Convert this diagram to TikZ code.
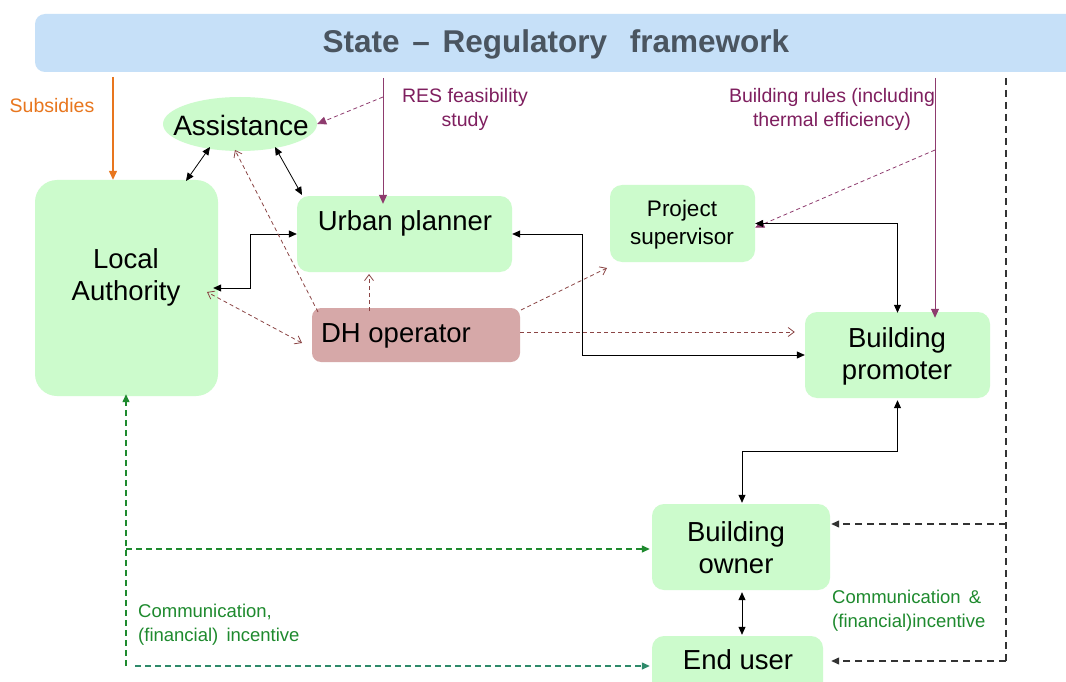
\documentclass[tikz,border=0pt]{standalone}
\usepackage{fontspec}
\setmainfont{Liberation Sans}
\usetikzlibrary{arrows.meta,shapes.geometric}
\definecolor{boxgreen}{HTML}{CCFBCC}
\definecolor{bannerblue}{HTML}{C6E0F8}
\definecolor{dhred}{HTML}{D6A8A8}
\definecolor{titlegray}{HTML}{4A5560}
\definecolor{plum}{HTML}{7F1F5F}
\definecolor{plumline}{HTML}{8E3B6E}
\definecolor{orangeline}{HTML}{E8761E}
\definecolor{darkgreen}{HTML}{1E8A2E}
\definecolor{tealgreen}{HTML}{2E8A6A}
\definecolor{brownline}{HTML}{8B4545}
\definecolor{dashgray}{HTML}{333333}
\tikzset{
  gbox/.style={fill=boxgreen, draw=none, rounded corners=12pt, inner sep=0pt},
  btext/.style={font=\fontsize{27.5}{32}\selectfont, align=center, inner sep=0pt},
  lbl/.style={font=\fontsize{19.5}{24}\selectfont, align=center, inner sep=0pt},
  blk/.style={black, line width=0.8pt, {Triangle[length=8pt,width=7pt]}-{Triangle[length=8pt,width=7pt]}},
  brn/.style={brownline, line width=0.8pt, dash pattern=on 4pt off 3pt, -{Straight Barb[length=6pt,width=9pt]}},
  brnboth/.style={brownline, line width=0.8pt, dash pattern=on 4pt off 3pt, {Straight Barb[length=6pt,width=9pt]}-{Straight Barb[length=6pt,width=9pt]}},
  plm/.style={plumline, line width=1pt, -{Triangle[length=9pt,width=8pt]}},
  plmd/.style={plumline, line width=0.8pt, dash pattern=on 4pt off 3pt, -{Triangle[length=9pt,width=8pt]}},
  grn/.style={darkgreen, line width=1.3pt, dash pattern=on 6pt off 4pt},
  gryd/.style={dashgray, line width=1.3pt, dash pattern=on 7pt off 5pt},
  ctext/.style={font=\fontsize{18.5}{24}\selectfont, align=left, inner sep=0pt, text=darkgreen, anchor=west},
}
\begin{document}
\begin{tikzpicture}[x=1pt,y=-1pt]
\clip (0,0) rectangle (1066,682);
\fill[white] (0,0) rectangle (1066,682);

% banner
\node[fill=bannerblue, rounded corners=10pt, minimum width=1050pt, minimum height=58pt, inner sep=0pt] (banner) at (560,43) {};
\node[font=\fontsize{31.5}{34}\selectfont\bfseries, text=titlegray, inner sep=0pt] (title) at (556,44) {State\hspace{4pt} –\hspace{4pt} Regulatory\hspace{14pt} framework};

% boxes
\node[gbox, rounded corners=22pt, minimum width=183pt, minimum height=216pt] (la) at (126.5,288) {};
\node[btext] (latext) at (126,277) {Local\\Authority};
\node[gbox, minimum width=215pt, minimum height=76pt] (up) at (404.5,234) {};
\node[btext] (uptext) at (405,223) {Urban planner};
\node[fill=dhred, rounded corners=9pt, inner sep=0pt, minimum width=208pt, minimum height=54pt] (dh) at (416,335) {};
\node[btext] (dhtext) at (396,336) {DH operator};
\node[gbox, minimum width=145pt, minimum height=77pt] (ps) at (682.5,223.5) {};
\node[font=\fontsize{22.5}{28}\selectfont, align=center, inner sep=0pt] (pstext) at (682,225) {Project\\supervisor};
\node[gbox, minimum width=185pt, minimum height=86pt] (bp) at (897.5,355) {};
\node[btext] (bptext) at (897,356) {Building\\promoter};
\node[gbox, minimum width=178pt, minimum height=86pt] (bo) at (741,547) {};
\node[btext] (botext) at (736,548) {Building\\owner};
\node[gbox, minimum width=171pt, minimum height=58pt] (eu) at (737.5,665) {};
\node[btext] (eutext) at (738,660) {End user};
\node[ellipse, fill=boxgreen, inner sep=0pt, minimum width=154pt, minimum height=54pt] (as) at (240,124) {};
\node[font=\fontsize{28}{32}\selectfont, inner sep=0pt] (astext) at (241,125) {Assistance};

% labels
\node[lbl, text=orangeline] (subs) at (52,106) {Subsidies};
\node[lbl, text=plum] (res) at (465,109) {RES feasibility\\study};
\node[lbl, text=plum] (rules) at (832,109) {Building rules (including\\thermal efficiency)};
\node[ctext] (comm1) at (138,625) {Communication,\\(financial)\hspace{3pt} incentive};
\node[ctext] (comm2) at (832,611) {Communication \hspace{3pt}\&\\(financial)incentive};

% free-end coordinates
\coordinate (subtop) at (113,77);
\coordinate (restop) at (383,78);
\coordinate (resmid) at (383,97);
\coordinate (rultop) at (935,78);
\coordinate (rulmid) at (935,150);
\coordinate (graytop) at (1006,78);

% orange subsidies
\draw[orangeline, line width=1.3pt, -{Triangle[length=9pt,width=8pt]}] (subtop) -- (subtop |- la.north);

% plum lines
\draw[plm] (restop) -- ([yshift=-8pt]restop |- up.north);
\draw[plmd] (resmid) -- (as.east);
\draw[plm] (rultop) -- ([yshift=-6pt]rultop |- bp.north);
\draw[plmd] (rulmid) -- ([yshift=-4pt]ps.east);

% black connectors
\draw[blk] (210,147) -- (186,181);
\draw[blk] (275,147) -- (302,195);
\draw[blk] ([xshift=-5pt]la.east) -- ++(37,0) |- (up.west);
\draw[blk] (up.east) -- ++(70,0) |- (bp.west);
\draw[blk] (ps.east) -| ([yshift=-1pt]bp.north);
\draw[blk] ([yshift=-2pt]bp.south) -- ++(0,51) -| ([xshift=1pt,yshift=1pt]bo.north);
\draw[blk] ([xshift=1pt,yshift=-2pt]bo.south) -- ([xshift=1pt,yshift=1pt]bo.south |- eu.north);

% brown dashed
\draw[brn] (318,312) -- (235,150);
\draw[brnboth] (302,343) -- (207,292);
\draw[brn] (369,311) -- (369,274);
\draw[brn] (521,310) -- (607,268);
\draw[brn] (dh.east |- 0,332) -- ([xshift=-10pt]bp.west |- 0,332);

% gray dashed right
\draw[gryd] (graytop) -- (1006,661);
\draw[gryd, -{Triangle[length=8pt,width=7pt]}] (1006,524) -- ([xshift=1pt]bo.east |- 0,524);
\draw[gryd, -{Triangle[length=8pt,width=7pt]}] (1006,661) -- ([xshift=8pt]eu.east |- 0,661);

% green dashed
\coordinate (gcorner) at (126,666);
\draw[grn, -{Triangle[length=8pt,width=7pt]}] (gcorner) -- ([yshift=2pt]gcorner |- la.south);
\draw[grn, -{Triangle[length=8pt,width=7pt]}] (126,549) -- ([xshift=-2pt]bo.west |- 0,549);
\draw[tealgreen, line width=1.3pt, dash pattern=on 6pt off 4pt, -{Triangle[length=8pt,width=7pt]}] (135,666) -- ([xshift=-2pt]eu.west |- 0,666);
\end{tikzpicture}
\end{document}
